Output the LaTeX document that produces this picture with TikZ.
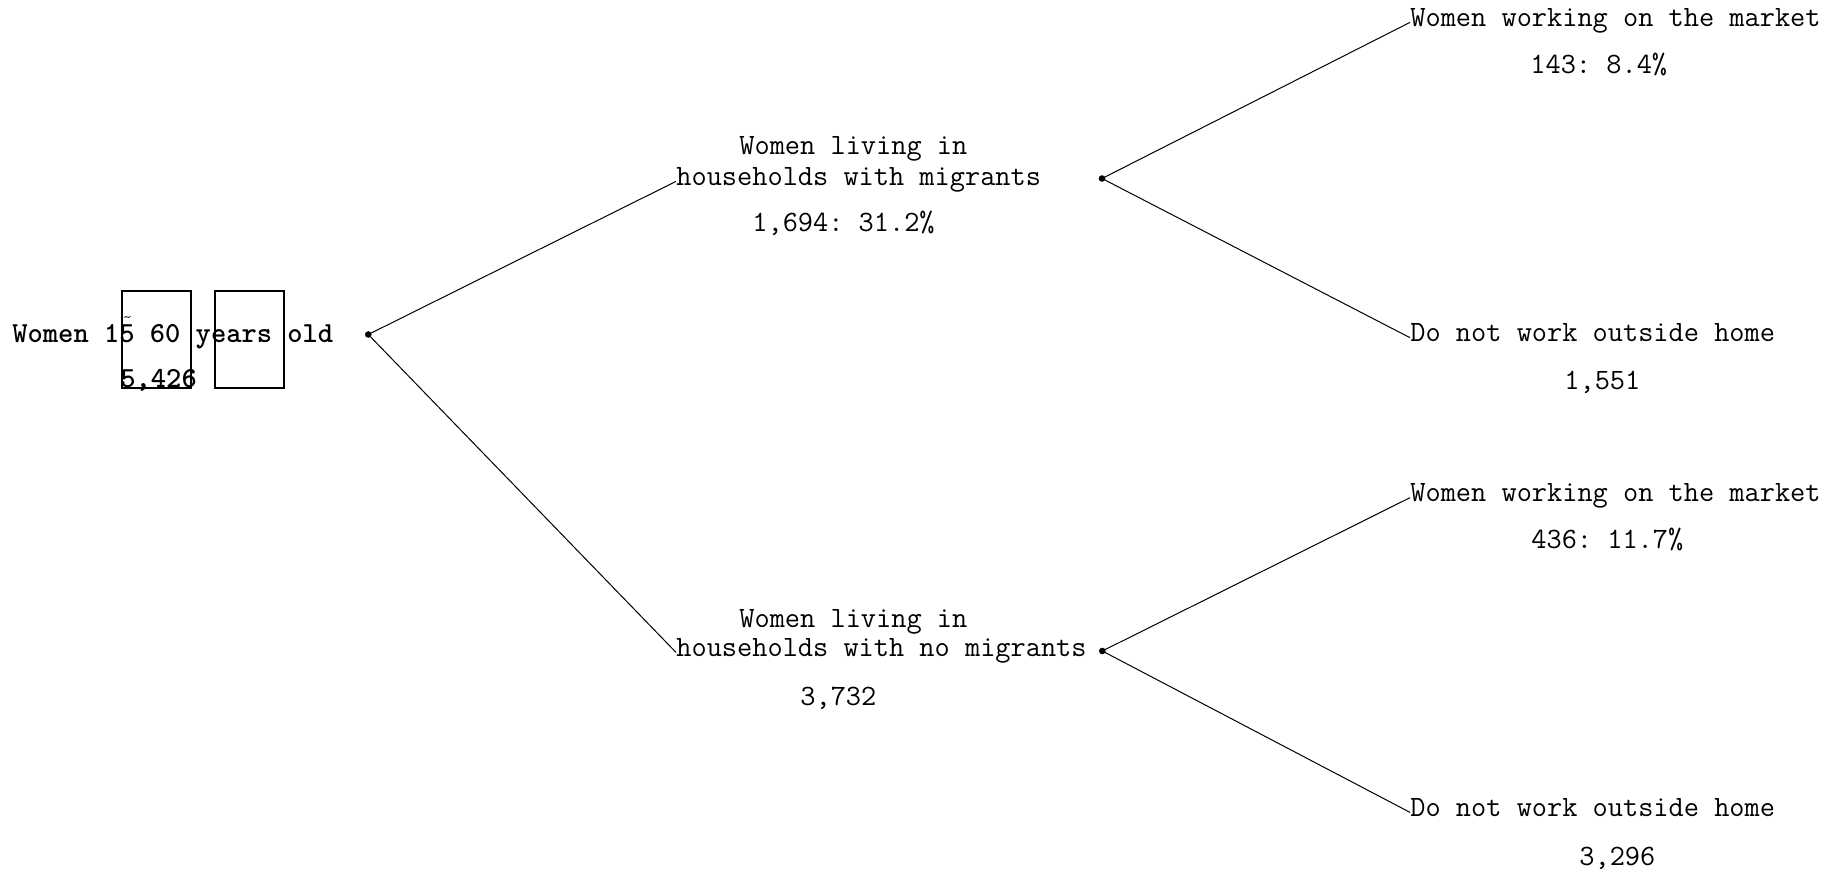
\documentclass[tikz,border=0pt]{standalone}
\usepackage{fontspec}
\frenchspacing
\begin{document}
\begin{tikzpicture}[x=0.5pt,y=-0.5pt,
  lbl/.style={inner sep=0pt,anchor=base west,font=\ttfamily\frenchspacing\fontsize{14.75}{17}\selectfont},
  blbl/.style={lbl,font=\ttfamily\bfseries\frenchspacing\fontsize{14.55}{17}\selectfont},
  conn/.style={line width=0.5pt},
  dotn/.style={circle,fill=black,inner sep=0pt,minimum size=3.3pt},
  glyphbox/.style={draw,line width=1pt}]
\useasboundingbox (0,0) rectangle (1837,871);
% root
\node[blbl] (root) at (12,342.7) {Women 15 60 years old};
\node[blbl] (rootn) at (120,388) {5,426};
\draw[glyphbox] (121.5,291.5) rectangle (190.5,388.5);
\draw[glyphbox] (215,291.5) rectangle (284,388.5);
\draw[line width=0.4pt] (124.5,317.5) .. controls (126,315) and (128,319) .. (130.5,316.5);
\node[dotn] (d0) at (368.3,334.5) {};
% middle upper
\node[lbl] (m1a) at (739,155) {Women living in};
\node[lbl] (m1b) at (676,185.7) {households with migrants};
\node[lbl] (m1c) at (752,231.7) {1,694: 31.2\%};
\node[dotn] (d1) at (1102,178.5) {};
% middle lower
\node[lbl] (m2a) at (739,627.3) {Women living in};
\node[lbl] (m2b) at (676,656.7) {households with no migrants};
\node[lbl] (m2c) at (800,705) {3,732};
\node[dotn] (d2) at (1102.3,651) {};
% right
\node[lbl] (r1a) at (1410,26.7) {Women working on the market};
\node[lbl] (r1b) at (1530,74) {143: 8.4\%};
\node[lbl] (r2a) at (1410,342) {Do not work outside home};
\node[lbl] (r2b) at (1564,390) {1,551};
\node[lbl] (r3a) at (1410,502) {Women working on the market};
\node[lbl] (r3b) at (1531,548) {436: 11.7\%};
\node[lbl] (r4a) at (1410,816.7) {Do not work outside home};
\node[lbl] (r4b) at (1579,865) {3,296};
% connectors
\draw[conn] (d0.center) -- (m1b.mid west);
\draw[conn] (d0.center) -- (m2b.mid west);
\draw[conn] (d1.center) -- (r1a.mid west);
\draw[conn] (d1.center) -- (r2a.mid west);
\draw[conn] (d2.center) -- (r3a.mid west);
\draw[conn] (d2.center) -- (r4a.mid west);
\end{tikzpicture}
\end{document}
